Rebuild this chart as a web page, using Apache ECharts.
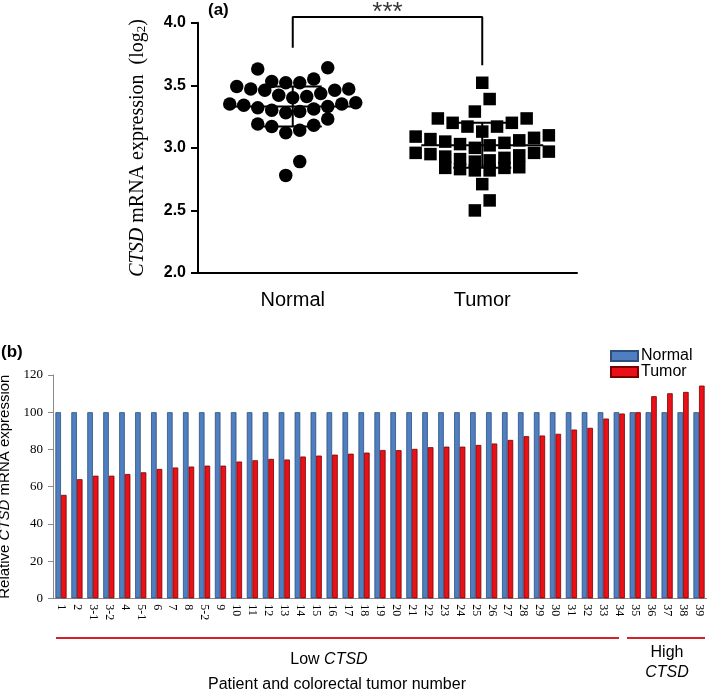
<!DOCTYPE html>
<html><head><meta charset="utf-8">
<script src="https://cdn.jsdelivr.net/npm/echarts@6/dist/echarts.min.js"></script>
<style>html,body{margin:0;padding:0;background:#fff}#c{width:707px;height:693px}</style>
</head><body><div id="c"></div>
<script>
// ---------- Panel (a) data ----------
const groupNames = ['Normal', 'Tumor'];
const normalVals = [3.64, 3.63, 3.55, 3.53, 3.52, 3.52,
  3.49, 3.47, 3.47, 3.46, 3.46, 3.435, 3.42, 3.41, 3.40,
  3.36, 3.35, 3.35, 3.34, 3.33, 3.32, 3.31, 3.30, 3.29, 3.28,
  3.23, 3.19, 3.18, 3.17, 3.14, 3.12,
  2.89, 2.78];
const tumorVals = [3.52,
  3.39, 3.29,
  3.235, 3.235, 3.20, 3.20, 3.17, 3.17, 3.13,
  3.10, 3.09, 3.08, 3.07, 3.06, 3.05, 3.04, 3.03, 3.02, 3.00,
  2.97, 2.96, 2.96, 2.95, 2.94, 2.93, 2.92, 2.91, 2.90, 2.89,
  2.845, 2.84, 2.84, 2.83, 2.82, 2.82,
  2.71,
  2.58, 2.50];
const groupMeans = [3.33, 3.02];
const groupSD = [0.16, 0.18];
const aYTicks = [2.0, 2.5, 3.0, 3.5, 4.0];

// ---------- Panel (b) data ----------
const patientLabels = ['1','2','3-1','3-2','4','5-1','6','7','8','5-2','9','10','11','12','13','14','15','16','17',
  '18','19','20','21','22','23','24','25','26','27','28','29','30','31','32','33','34','35','36','37','38','39'];
const normalRel = patientLabels.map(() => 100);
const tumorRel = [55.6, 64.0, 65.9, 65.9, 66.8, 67.7, 69.5, 70.3, 70.8, 71.3, 71.3, 73.5, 74.2, 74.9, 74.6, 76.2,
  76.7, 77.2, 77.7, 78.3, 79.7, 79.6, 80.3, 81.2, 81.5, 81.5, 82.4, 83.2, 85.1, 87.1, 87.5, 88.4, 90.7, 91.6,
  96.6, 99.3, 100, 108.6, 110.2, 110.9, 114.3];
const bYTicks = [0, 20, 40, 60, 80, 100, 120];

// ---------- layout ----------
const A = {left: 198, top: 22.7, width: 379, height: 250.3};
const B = {left: 53, top: 375, width: 654, height: 223.3};
const pxPerX = A.width / 2;

// row-binned scatter layout (like GraphPad): greedy bins from the top, points in a bin spread horizontally
function rowLayout(vals, binH, spacingPx) {
  const idx = vals.map((v, i) => i).sort((a, b) => vals[b] - vals[a]);
  const bins = [];
  let cur = null;
  idx.forEach(i => {
    if (!cur || vals[cur[0]] - vals[i] >= binH - 1e-9) { cur = [i]; bins.push(cur); }
    else cur.push(i);
  });
  const offs = new Array(vals.length).fill(0);
  bins.forEach(b => {
    const asc = b.slice().sort((p, q) => vals[p] - vals[q]);
    const n = asc.length;
    asc.forEach((i, j) => {
      let o;
      if (n % 2) { const k = Math.ceil(j / 2); o = (j % 2 ? 1 : -1) * k; if (j === 0) o = 0; }
      else { const k = Math.floor(j / 2) + 0.5; o = (j % 2 ? 1 : -1) * k; }
      offs[i] = o * spacingPx / pxPerX;
    });
  });
  return offs;
}
const nOff = rowLayout(normalVals, 0.125, 14);
const tOff = rowLayout(tumorVals, 0.125, 14.8);
const normalPts = normalVals.map((v, i) => [1 + nOff[i], v]);
const tumorPts = tumorVals.map((v, i) => [2 + tOff[i], v]);

const chart = echarts.init(document.getElementById('c'), null, {renderer: 'canvas'});
const serif = '"Liberation Serif","Times New Roman",serif';
const sans = '"Liberation Sans",Arial,sans-serif';

chart.setOption({
  animation: false,
  backgroundColor: '#fff',
  grid: [
    {left: A.left, top: A.top, width: A.width, height: A.height, containLabel: false, outerBoundsMode: 'none'},
    {left: B.left, top: B.top, width: B.width, height: B.height, containLabel: false, outerBoundsMode: 'none'}
  ],
  legend: {
    data: ['Normal', 'Tumor'], orient: 'vertical', left: 605, top: 343, itemGap: 0,
    itemWidth: 27, itemHeight: 10, icon: 'rect',
    textStyle: {fontFamily: sans, fontSize: 16, color: '#000', padding: [0, 0, 0, -2]}
  },
  xAxis: [
    {gridIndex: 0, type: 'category', data: groupNames, boundaryGap: true,
      axisLine: {lineStyle: {color: '#000', width: 2}},
      axisTick: {alignWithLabel: true, length: 7, lineStyle: {color: '#000', width: 2}},
      axisLabel: {fontFamily: sans, fontSize: 20, color: '#000', margin: 17}},
    {gridIndex: 0, type: 'value', min: 0.5, max: 2.5, show: false},
    {gridIndex: 1, type: 'category', data: patientLabels, boundaryGap: true,
      axisLine: {lineStyle: {color: '#8a8a8a', width: 1}},
      axisTick: {length: 5, lineStyle: {color: '#8a8a8a'}},
      axisLabel: {fontFamily: serif, fontSize: 12, color: '#000', rotate: -90, interval: 0, margin: 6}}
  ],
  yAxis: [
    {gridIndex: 0, type: 'value', min: 2, max: 4, interval: 0.5,
      axisLine: {show: true, lineStyle: {color: '#000', width: 2}},
      axisTick: {show: true, length: 7, lineStyle: {color: '#000', width: 2}},
      splitLine: {show: false},
      axisLabel: {fontFamily: sans, fontSize: 16, fontWeight: 'bold', color: '#000', margin: 12,
        formatter: v => v.toFixed(1)},
      name: '{i|CTSD} mRNA expression  (log{s|2})', nameLocation: 'middle', nameGap: 50, nameRotate: 90,
      nameTextStyle: {fontFamily: serif, fontSize: 20, color: '#000',
        rich: {i: {fontFamily: serif, fontSize: 20, fontStyle: 'italic', color: '#000'},
               s: {fontFamily: serif, fontSize: 13, color: '#000', verticalAlign: 'bottom', lineHeight: 14, padding: [8, 0, 0, 0]}}}},
    {gridIndex: 1, type: 'value', min: 0, max: 120, interval: 20,
      axisLine: {show: true, lineStyle: {color: '#8a8a8a', width: 1}},
      axisTick: {show: true, length: 5, lineStyle: {color: '#8a8a8a'}},
      splitLine: {show: false},
      axisLabel: {fontFamily: serif, fontSize: 13, color: '#000', margin: 10},
      name: 'Relative {i|CTSD} mRNA expression', nameLocation: 'middle', nameGap: 37, nameRotate: 90,
      nameTextStyle: {fontFamily: sans, fontSize: 15, color: '#000',
        rich: {i: {fontFamily: sans, fontSize: 15, fontStyle: 'italic', color: '#000'}}}}
  ],
  series: [
    {name: 'NormalPts', type: 'scatter', xAxisIndex: 1, yAxisIndex: 0, data: normalPts,
      symbol: 'circle', symbolSize: 13.5, itemStyle: {color: '#000', opacity: 1}, z: 2},
    {name: 'TumorPts', type: 'scatter', xAxisIndex: 1, yAxisIndex: 0, data: tumorPts,
      symbol: 'rect', symbolSize: 12.5, itemStyle: {color: '#000', opacity: 1}, z: 2},
    {type: 'custom', xAxisIndex: 1, yAxisIndex: 0, z: 3,
      data: groupMeans.map((m, i) => [i + 1, m, groupSD[i]]),
      renderItem: (params, api) => {
        const g = api.value(0), m = api.value(1), s = api.value(2);
        const c = api.coord([g, m]), up = api.coord([g, m + s]), lo = api.coord([g, m - s]);
        const st = {stroke: '#000', lineWidth: 2};
        const L = (x1, y1, x2, y2) => ({type: 'line', shape: {x1, y1, x2, y2}, style: st});
        return {type: 'group', children: [
          L(c[0] - 61, c[1], c[0] + 61, c[1]),
          L(up[0] - 29, up[1], up[0] + 29, up[1]),
          L(lo[0] - 29, lo[1], lo[0] + 29, lo[1]),
          L(c[0], up[1], c[0], lo[1])
        ]};
      }},
    {type: 'line', xAxisIndex: 1, yAxisIndex: 0, clip: false, symbol: 'none', silent: true,
      data: [[1, 3.80], [1, 4.045], [2, 4.045], [2, 3.66]],
      lineStyle: {color: '#000', width: 2}},
    {type: 'scatter', xAxisIndex: 1, yAxisIndex: 0, clip: false, symbolSize: 0, silent: true,
      data: [[1.5, 4.08]],
      label: {show: true, position: 'inside', formatter: '***', fontFamily: sans, fontSize: 26, color: '#000'}},
    {name: 'Normal', type: 'bar', xAxisIndex: 2, yAxisIndex: 1, data: normalRel, barWidth: 5.6, barGap: '0%',
      itemStyle: {color: '#4f7fc0', borderColor: '#2d4f7c', borderWidth: 0.8}},
    {name: 'Tumor', type: 'bar', xAxisIndex: 2, yAxisIndex: 1, data: tumorRel, barWidth: 5.6,
      itemStyle: {color: '#ea1017', borderColor: '#7a0000', borderWidth: 0.8}}
  ],
  graphic: [
    {type: 'text', left: 208, top: 2, style: {text: '(a)', font: 'bold 17px ' + sans, fill: '#000'}},
    {type: 'text', left: 1, top: 344, style: {text: '(b)', font: 'bold 17px ' + sans, fill: '#000'}},
    {type: 'line', shape: {x1: 56, y1: 638, x2: 619, y2: 638}, style: {stroke: '#d2232a', lineWidth: 2}},
    {type: 'line', shape: {x1: 627, y1: 638, x2: 705, y2: 638}, style: {stroke: '#d2232a', lineWidth: 2}},
    {type: 'text', x: 329, y: 660, style: {text: 'Low {i|CTSD}', align: 'center', verticalAlign: 'middle',
      font: '16px ' + sans, fill: '#000', rich: {i: {fontStyle: 'italic', fontFamily: sans, fontSize: 16}}}},
    {type: 'text', x: 337, y: 685, style: {text: 'Patient and colorectal tumor number', align: 'center',
      verticalAlign: 'middle', font: '16px ' + sans, fill: '#000'}},
    {type: 'text', x: 667, y: 653, style: {text: 'High', align: 'center', verticalAlign: 'middle',
      font: '16px ' + sans, fill: '#000'}},
    {type: 'text', x: 667, y: 673, style: {text: 'CTSD', align: 'center', verticalAlign: 'middle',
      font: 'italic 16px ' + sans, fill: '#000'}}
  ]
});
</script></body></html>
